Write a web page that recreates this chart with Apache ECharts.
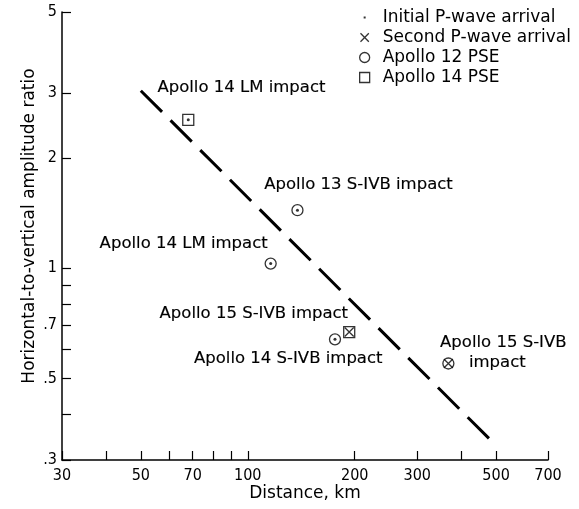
<!DOCTYPE html>
<html>
<head>
<meta charset="utf-8">
<script src="https://cdn.jsdelivr.net/npm/echarts@6/dist/echarts.min.js"></script>
<style>
  html, body { margin: 0; padding: 0; background: #fff; }
  #chart { width: 579px; height: 509px; }
</style>
</head>
<body>
<div id="chart"></div>
<script>
// events
var eventDist    = [68, 138, 116, 176, 193, 367];
var eventRatio   = [2.54, 1.44, 1.03, 0.64, 0.67, 0.55];
var eventStation = ['14', '12', '12', '12', '14', '12'];
var eventArrival = ['initial', 'initial', 'initial', 'initial', 'second', 'second'];

// dashed trend line end points
var fitDist  = [50, 490];
var fitRatio = [3.05, 0.335];

// annotations (text centre in data coordinates)
var noteText  = ['Apollo 14 LM impact', 'Apollo 13 S-IVB impact', 'Apollo 14 LM impact',
                 'Apollo 15 S-IVB impact', 'Apollo 14 S-IVB impact', 'Apollo 15 S-IVB', 'impact'];
var noteDist  = [96, 205, 66, 104, 130, 524, 504];
var noteRatio = [3.10, 1.69, 1.17, 0.75, 0.566, 0.626, 0.552];

// ticks
var xTicks  = [30, 40, 50, 60, 70, 80, 90, 100, 200, 300, 400, 500, 700];
var xLabels = [30, 50, 70, 100, 200, 300, 500, 700];
var yTicks  = [0.3, 0.4, 0.5, 0.6, 0.7, 0.8, 0.9, 1, 2, 3, 5];
var yLabels = [0.3, 0.5, 0.7, 1, 2, 3, 5];

var FONT = '"DejaVu Sans", sans-serif';
var NUMFONT = '"DejaVu Sans Condensed", "DejaVu Sans", sans-serif';

function pick(cond) {
    var out = [];
    for (var i = 0; i < eventDist.length; i++) {
        if (cond(i)) out.push([eventDist[i], eventRatio[i]]);
    }
    return out;
}

var hollow = {color: 'rgba(0,0,0,0)', borderColor: '#000', borderWidth: 1.3};
var crossPath = 'path://M0,0L10,10M10,0L0,10';

var myChart = echarts.init(document.getElementById('chart'));

var option = {
    animation: false,
    textStyle: {fontFamily: FONT},
    grid: {left: 62, right: 31, top: 12, bottom: 49},
    legend: {
        orient: 'vertical',
        left: 354,
        top: 4,
        itemWidth: 26,
        itemHeight: 10,
        itemGap: 3,
        symbolKeepAspect: true,
        selectedMode: false,
        textStyle: {fontFamily: FONT, fontSize: 17, color: '#000'},
        data: [
            {name: 'Initial P-wave arrival', icon: 'path://M0,0M10,10M4,4h2v2h-2z',
             itemStyle: {color: '#000', borderWidth: 0}},
            {name: 'Second P-wave arrival', icon: 'path://M-1,-1M11,11M0,0L10,10M10,0L0,10',
             itemStyle: {color: 'rgba(0,0,0,0)', borderColor: '#000', borderWidth: 1.3}},
            {name: 'Apollo 12 PSE', icon: 'circle', itemStyle: hollow},
            {name: 'Apollo 14 PSE', icon: 'path://M0,0h10v10h-10z', itemStyle: hollow}
        ]
    },
    xAxis: {
        type: 'log',
        min: 30,
        max: 700,
        name: 'Distance, km',
        nameLocation: 'middle',
        nameGap: 25,
        nameMoveOverlap: false,
        nameTextStyle: {fontFamily: FONT, fontSize: 17, color: '#000'},
        axisLine: {lineStyle: {color: '#000', width: 1.5}},
        axisTick: {inside: true, length: 9, customValues: xTicks, lineStyle: {color: '#000', width: 1.2}},
        axisLabel: {customValues: xLabels, color: '#000', fontFamily: NUMFONT, fontSize: 16, margin: 8},
        splitLine: {show: false},
        minorTick: {show: false}
    },
    yAxis: {
        type: 'log',
        min: 0.3,
        max: 5,
        name: 'Horizontal-to-vertical amplitude ratio',
        nameLocation: 'middle',
        nameGap: 24,
        nameMoveOverlap: false,
        nameTextStyle: {fontFamily: FONT, fontSize: 17, color: '#000', padding: [0, 0, 0, 20]},
        axisLine: {lineStyle: {color: '#000', width: 1.5}},
        axisTick: {inside: true, length: 9, customValues: yTicks, lineStyle: {color: '#000', width: 1.2}},
        axisLabel: {
            customValues: yLabels, color: '#000', fontFamily: NUMFONT, fontSize: 16, margin: 5,
            formatter: function (v) { return v < 1 ? String(+v.toFixed(2)).replace('0.', '.') : String(+v.toFixed(2)); }
        },
        splitLine: {show: false}
    },
    series: [
        {
            type: 'line',
            data: fitDist.map(function (d, i) { return [d, fitRatio[i]]; }),
            symbol: 'none',
            lineStyle: {color: '#000', width: 3, type: [30, 12]},
            silent: true,
            z: 1
        },
        {
            name: 'Apollo 12 PSE',
            type: 'scatter',
            symbol: 'circle',
            symbolSize: 11,
            itemStyle: hollow,
            data: pick(function (i) { return eventStation[i] === '12'; }),
            z: 3
        },
        {
            name: 'Apollo 14 PSE',
            type: 'scatter',
            symbol: 'rect',
            symbolSize: 11,
            itemStyle: hollow,
            data: pick(function (i) { return eventStation[i] === '14'; }),
            z: 3
        },
        {
            name: 'Initial P-wave arrival',
            type: 'scatter',
            symbol: 'circle',
            symbolSize: 3,
            itemStyle: {color: '#000'},
            data: pick(function (i) { return eventArrival[i] === 'initial'; }),
            z: 4
        },
        {
            name: 'Second P-wave arrival',
            type: 'scatter',
            symbol: crossPath,
            symbolSize: 9,
            itemStyle: {color: 'rgba(0,0,0,0)', borderColor: '#000', borderWidth: 1.3},
            data: pick(function (i) { return eventArrival[i] === 'second'; }),
            z: 4
        },
        {
            type: 'scatter',
            symbol: 'circle',
            symbolSize: 1,
            itemStyle: {color: 'rgba(0,0,0,0)', opacity: 1},
            silent: true,
            data: noteText.map(function (t, i) { return {value: [noteDist[i], noteRatio[i]], name: t}; }),
            label: {
                show: true,
                position: 'inside',
                formatter: '{b}',
                color: '#000',
                textBorderColor: '#000',
                textBorderWidth: 0.15,
                fontFamily: FONT,
                fontSize: 16.5
            },
            labelLayout: {hideOverlap: false},
            z: 5
        }
    ]
};

myChart.setOption(option);
</script>
</body>
</html>
